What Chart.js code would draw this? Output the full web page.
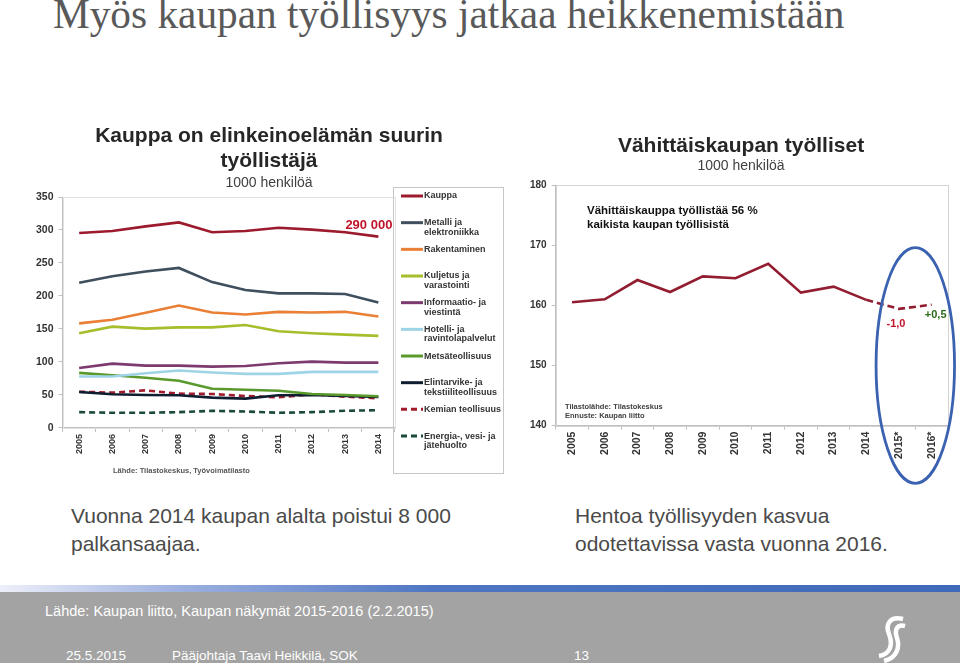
<!DOCTYPE html>
<html lang="fi">
<head>
<meta charset="UTF-8">
<title>Myös kaupan työllisyys jatkaa heikkenemistään</title>
<script src="https://cdn.jsdelivr.net/npm/chart.js@4.4.1/dist/chart.umd.min.js"></script>
<style>
  body { margin: 0; width: 960px; height: 663px; position: relative; overflow: hidden; background: #fff; font-family: Arial, "Liberation Sans", sans-serif; }
  .abs { position: absolute; }
  #slideTitle { left: 53px; top: -6px; font-family: "Liberation Serif", "Times New Roman", serif; font-size: 41.3px; line-height: 41px; color: #595959; white-space: nowrap; }
  .note { font-size: 21px; line-height: 27.5px; color: #4a4a4a; top: 502px; white-space: nowrap; }
  #footBand { left: 0; top: 585px; width: 960px; height: 7px; background: linear-gradient(90deg, #eef0fa 0%, #9fb2e0 18%, #4e76c2 45%, #3f69b9 100%); }
  #footer { left: 0; top: 592px; width: 960px; height: 71px; background: #a3a3a3; }
  .foot { color: #fff; white-space: nowrap; }
</style>
</head>
<body>

<div id="slideTitle" class="abs">Myös kaupan työllisyys jatkaa heikkenemistään</div>

<div class="abs" style="left:30px;top:112px;width:478px;height:368px"><canvas id="left"></canvas></div>
<div class="abs" style="left:522px;top:118px;width:438px;height:372px"><canvas id="right"></canvas></div>

<div class="abs note" style="left:71px">Vuonna 2014 kaupan alalta poistui 8 000<br>palkansaajaa.</div>
<div class="abs note" style="left:575px">Hentoa työllisyyden kasvua<br>odotettavissa vasta vuonna 2016.</div>

<div id="footBand" class="abs"></div>
<div id="footer" class="abs"></div>
<div class="abs foot" style="left:45px;top:603px;font-size:14.5px">Lähde: Kaupan liitto, Kaupan näkymät 2015-2016 (2.2.2015)</div>
<div class="abs foot" style="left:66px;top:648px;font-size:13.5px">25.5.2015</div>
<div class="abs foot" style="left:172px;top:648px;font-size:13.5px">Pääjohtaja Taavi Heikkilä, SOK</div>
<div class="abs foot" style="left:574px;top:648px;font-size:13.5px">13</div>
<svg class="abs" style="left:870px;top:614px" width="40" height="49">
  <path d="M33 5 C20 2 15 10 19 20 C23 30 21 40 9 42" stroke="#fff" stroke-width="4.5" fill="none"/>
  <path d="M35 12 C27 10 24 16 27 24 C30 33 27 44 14 47" stroke="#fff" stroke-width="4.5" fill="none"/>
</svg>

<script>
// luvut luettu kuvasta, 1000 henkilöä
const years = ['2005', '2006', '2007', '2008', '2009', '2010', '2011', '2012', '2013', '2014'];
const kauppa = [295.5, 298.5, 305.5, 311.5, 296.5, 298.5, 303.5, 300.5, 296.5, 290];
const metalli = [220, 230, 237, 242.5, 221, 209, 204, 204, 203, 190];
const rakentaminen = [158.5, 164, 174.5, 185.5, 175, 172, 176, 175, 176, 169];
const kuljetus = [143.5, 153.5, 150.5, 152.5, 152.5, 156, 146.5, 143.5, 141.5, 139.5];
const informaatio = [91, 97.5, 94.5, 94.5, 93, 94, 98, 100.5, 99, 99];
const hotelli = [78, 78, 83, 87, 84, 82, 82, 85, 85, 85];
const metsa = [83.5, 80, 76, 71.5, 59.5, 58, 56.5, 51.5, 50, 48];
const elintarvike = [54.5, 51, 50, 49.5, 46, 44.5, 49.5, 50, 48.5, 47];
const kemia = [55, 53.5, 57, 52, 51.5, 48.5, 46.5, 51, 47.5, 45];
const energia = [24, 23, 23, 24, 26, 25, 23, 24, 26, 27];

const yTicksLeft = [0, 350, 50];  // min, max, step

const retailYears = ['2005', '2006', '2007', '2008', '2009', '2010', '2011', '2012', '2013', '2014', '2015*', '2016*'];
const retail = [160.5, 161.0, 164.2, 162.2, 164.8, 164.5, 166.9, 162.1, 163.1, 160.9, 159.4, 160.1];
const yTicksRight = [140, 180, 10];

Chart.defaults.font.family = 'Arial, "Liberation Sans", sans-serif';
Chart.defaults.animation = false;

// otsikot piirretään itse, jotta ne keskittyvät koko kuvan leveydelle
function heading(lines, sub, subY) {
  return {
    id: 'heading',
    afterDraw(chart) {
      const ctx = chart.ctx;
      const cx = chart.width / 2;
      ctx.save();
      ctx.textAlign = 'center';
      ctx.textBaseline = 'alphabetic';
      ctx.fillStyle = '#262626';
      ctx.font = 'bold 21px Arial, "Liberation Sans", sans-serif';
      lines.forEach(l => ctx.fillText(l.text, cx, l.y));
      ctx.fillStyle = '#404040';
      ctx.font = '14px Arial, "Liberation Sans", sans-serif';
      ctx.fillText(sub, cx, subY);
      ctx.restore();
    }
  };
}

const frame = color => ({
  id: 'frame',
  beforeDatasetsDraw(chart) {
    const a = chart.chartArea;
    const ctx = chart.ctx;
    ctx.save();
    ctx.strokeStyle = color;
    ctx.lineWidth = 1;
    ctx.strokeRect(Math.round(a.left) + 0.5, Math.round(a.top) + 0.5, Math.round(a.right - a.left), Math.round(a.bottom - a.top));
    ctx.restore();
  }
});

const sideLegend = {
  id: 'sideLegend',
  afterDraw(chart) {
    const ctx = chart.ctx;
    const x0 = chart.width - 115, y0 = 75, w = 110, h = 286;
    ctx.save();
    ctx.strokeStyle = '#c6c6c6';
    ctx.lineWidth = 1;
    ctx.strokeRect(x0 + 0.5, y0 + 0.5, w, h);
    ctx.font = 'bold 9px Arial, "Liberation Sans", sans-serif';
    ctx.textBaseline = 'middle';
    ctx.textAlign = 'left';
    chart.data.datasets.forEach((ds, i) => {
      const y = y0 + 9 + i * 26.67;
      ctx.strokeStyle = ds.borderColor;
      ctx.lineWidth = 3;
      ctx.setLineDash(ds.borderDash || []);
      ctx.beginPath();
      ctx.moveTo(x0 + 8, y);
      ctx.lineTo(x0 + 30, y);
      ctx.stroke();
      ctx.setLineDash([]);
      ctx.fillStyle = '#333';
      ds.label.split('\n').forEach((t, j) => ctx.fillText(t, x0 + 31, y + j * 9.5));
    });
    ctx.restore();
  }
};

const leftNotes = {
  id: 'leftNotes',
  afterDatasetsDraw(chart) {
    const ctx = chart.ctx;
    const xs = chart.scales.x, ys = chart.scales.y;
    const last = kauppa.length - 1;
    ctx.save();
    ctx.fillStyle = '#c0142a';
    ctx.font = 'bold 13px Arial, "Liberation Sans", sans-serif';
    ctx.textAlign = 'right';
    ctx.fillText('290 000', xs.getPixelForValue(last) + 14, ys.getPixelForValue(kauppa[last]) - 8);
    ctx.fillStyle = '#555';
    ctx.font = 'bold 7.5px Arial, "Liberation Sans", sans-serif';
    ctx.textAlign = 'left';
    ctx.fillText('Lähde: Tilastokeskus, Työvoimatilasto', 83, 361);
    ctx.restore();
  }
};

const rightNotes = {
  id: 'rightNotes',
  afterDraw(chart) {
    const ctx = chart.ctx;
    const xs = chart.scales.x, ys = chart.scales.y;
    ctx.save();
    ctx.fillStyle = '#111';
    ctx.font = 'bold 11.5px Arial, "Liberation Sans", sans-serif';
    ctx.fillText('Vähittäiskauppa työllistää 56 %', 65, 96);
    ctx.fillText('kaikista kaupan työllisistä', 65, 109.5);
    ctx.fillStyle = '#404040';
    ctx.font = 'bold 7.5px Arial, "Liberation Sans", sans-serif';
    ctx.fillText('Tilastolähde: Tilastokeskus', 43, 290.5);
    ctx.fillText('Ennuste: Kaupan liitto', 43, 299.5);

    ctx.font = 'bold 11px Arial, "Liberation Sans", sans-serif';
    ctx.textAlign = 'center';
    ctx.fillStyle = '#c0142a';
    ctx.fillText('-1,0', xs.getPixelForValue(10) - 3, ys.getPixelForValue(retail[10]) + 18);
    ctx.fillStyle = '#2a6a1c';
    ctx.fillText('+0,5', xs.getPixelForValue(11) + 4, ys.getPixelForValue(retail[11]) + 13);

    // sininen rengas ennustevuosien ympärillä
    const cx = (xs.getPixelForValue(10) + xs.getPixelForValue(11)) / 2;
    const cy = ys.getPixelForValue(150);
    const rx = (xs.getPixelForValue(11) - xs.getPixelForValue(10)) * 1.2;
    const ry = cy - ys.getPixelForValue(169.6);
    ctx.strokeStyle = '#3a62b0';
    ctx.lineWidth = 2.8;
    ctx.beginPath();
    ctx.ellipse(cx, cy, rx, ry, 0, 0, Math.PI * 2);
    ctx.stroke();
    ctx.restore();
  }
};

function axisStyle(fontSize) {
  return {
    grid: { drawOnChartArea: false, tickLength: 4, color: '#bfbfbf' },
    border: { color: '#bfbfbf' },
    ticks: { font: { size: fontSize, weight: 'bold' }, color: '#333' }
  };
}

function line(label, data, color, dash) {
  return {
    label, data,
    borderColor: color, backgroundColor: color,
    borderWidth: 2.6, pointRadius: 0, tension: 0,
    borderDash: dash
  };
}

const leftX = axisStyle(9);
leftX.offset = true;
leftX.grid.offset = true;
leftX.ticks.minRotation = 90;
leftX.ticks.maxRotation = 90;
leftX.ticks.padding = 2;
const leftY = axisStyle(10.5);
leftY.min = yTicksLeft[0];
leftY.max = yTicksLeft[1];
leftY.ticks.stepSize = yTicksLeft[2];
leftY.ticks.padding = 5;

new Chart(document.getElementById('left'), {
  type: 'line',
  data: {
    labels: years,
    datasets: [
      line('Kauppa', kauppa, '#9c1a2e'),
      line('Metalli ja\nelektroniikka', metalli, '#3f4f5e'),
      line('Rakentaminen', rakentaminen, '#ea7f36'),
      line('Kuljetus ja\nvarastointi', kuljetus, '#a6bd2c'),
      line('Informaatio- ja\nviestintä', informaatio, '#7d3a6f'),
      line('Hotelli- ja\nravintolapalvelut', hotelli, '#9ed4e6'),
      line('Metsäteollisuus', metsa, '#5a9a2c'),
      line('Elintarvike- ja\ntekstiiliteollisuus', elintarvike, '#0f1d30'),
      line('Kemian teollisuus', kemia, '#a11b2d', [6, 4]),
      line('Energia-, vesi- ja\njätehuolto', energia, '#1c4a3a', [6, 4])
    ]
  },
  options: {
    responsive: true,
    maintainAspectRatio: false,
    layout: { padding: { left: 1, right: 113, top: 85, bottom: 24 } },
    plugins: { legend: { display: false }, tooltip: { enabled: false } },
    scales: { x: leftX, y: leftY }
  },
  plugins: [
    heading([{ text: 'Kauppa on elinkeinoelämän suurin', y: 29.7 }, { text: 'työllistäjä', y: 54.7 }], '1000 henkilöä', 74.7),
    frame('#e2e2e2'), sideLegend, leftNotes
  ]
});

const rightX = axisStyle(10.5);
rightX.offset = true;
rightX.grid.offset = true;
rightX.ticks.minRotation = 90;
rightX.ticks.maxRotation = 90;
rightX.ticks.padding = 2;
const rightY = axisStyle(10);
rightY.min = yTicksRight[0];
rightY.max = yTicksRight[1];
rightY.ticks.stepSize = yTicksRight[2];
rightY.ticks.padding = 5;

const retailLine = line('Vähittäiskauppa', retail, '#921d30');
retailLine.segment = { borderDash: ctx => ctx.p0DataIndex >= 9 ? [7, 4] : undefined };

new Chart(document.getElementById('right'), {
  type: 'line',
  data: { labels: retailYears, datasets: [retailLine] },
  options: {
    responsive: true,
    maintainAspectRatio: false,
    layout: { padding: { left: 3, right: 12, top: 67, bottom: 29 } },
    plugins: { legend: { display: false }, tooltip: { enabled: false } },
    scales: { x: rightX, y: rightY }
  },
  plugins: [
    heading([{ text: 'Vähittäiskaupan työlliset', y: 33.7 }], '1000 henkilöä', 52),
    frame('#d4d4d4'), rightNotes
  ]
});
</script>
</body>
</html>
